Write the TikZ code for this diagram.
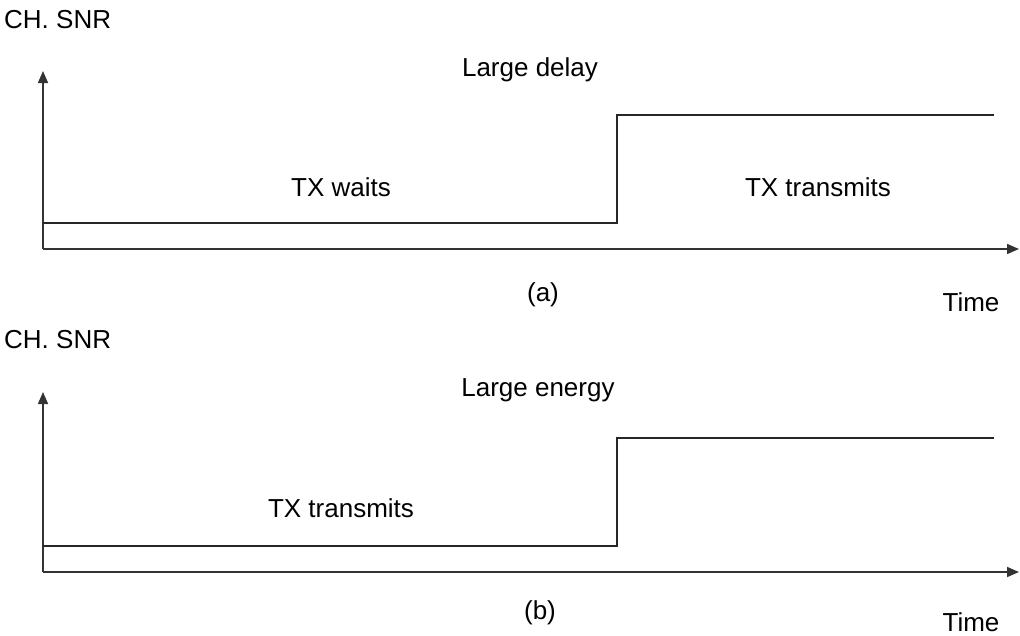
\documentclass[tikz,border=0pt]{standalone}
\usepackage{fontspec}
\setmainfont{Liberation Sans}
\usetikzlibrary{arrows.meta}
\begin{document}
\begin{tikzpicture}[x=1pt,y=-1pt,
  axisline/.style={line width=1.6pt,draw=black!80,-{Triangle[length=12pt,width=10pt]}},
  signal/.style={line width=1.2pt,draw=black!85},
  lbl/.style={inner sep=0pt,font=\fontsize{26}{30}\selectfont}]
\useasboundingbox (0,0) rectangle (1020,635);

% ---- panel (a): waiting for a good channel ----
\coordinate (oa) at (43,249);
\coordinate (ya) at (43,71);
\coordinate (xa) at (1019,249);
\coordinate (a0) at (43,223);
\coordinate (a1) at (617,223);
\coordinate (a2) at (617,115);
\coordinate (a3) at (994,115);
\draw[axisline] (oa) -- (ya);
\draw[axisline] (oa) -- (xa);
\draw[signal] (a0) -- (a1) -- (a2) -- (a3);
\node[lbl,anchor=west] (ya-label) at (4,20) {CH. SNR};
\node[lbl] (delay) at (530,70) {Large delay};
\node[lbl] (waits) at (341,187) {TX waits};
\node[lbl] (txa) at (818,187) {TX transmits};
\node[lbl] (capa) at (543,295) {(a)};
\node[lbl] (timea) at (971,302) {Time};

% ---- panel (b): transmitting over a poor channel ----
\coordinate (ob) at (43,572);
\coordinate (yb) at (43,392);
\coordinate (xb) at (1019,572);
\coordinate (b0) at (43,546);
\coordinate (b1) at (617,546);
\coordinate (b2) at (617,438);
\coordinate (b3) at (994,438);
\draw[axisline] (ob) -- (yb);
\draw[axisline] (ob) -- (xb);
\draw[signal] (b0) -- (b1) -- (b2) -- (b3);
\node[lbl,anchor=west] (yb-label) at (4,340) {CH. SNR};
\node[lbl] (energy) at (538,390) {Large energy};
\node[lbl] (txb) at (341,508) {TX transmits};
\node[lbl] (capb) at (540,613) {(b)};
\node[lbl] (timeb) at (971,622) {Time};
\end{tikzpicture}
\end{document}
